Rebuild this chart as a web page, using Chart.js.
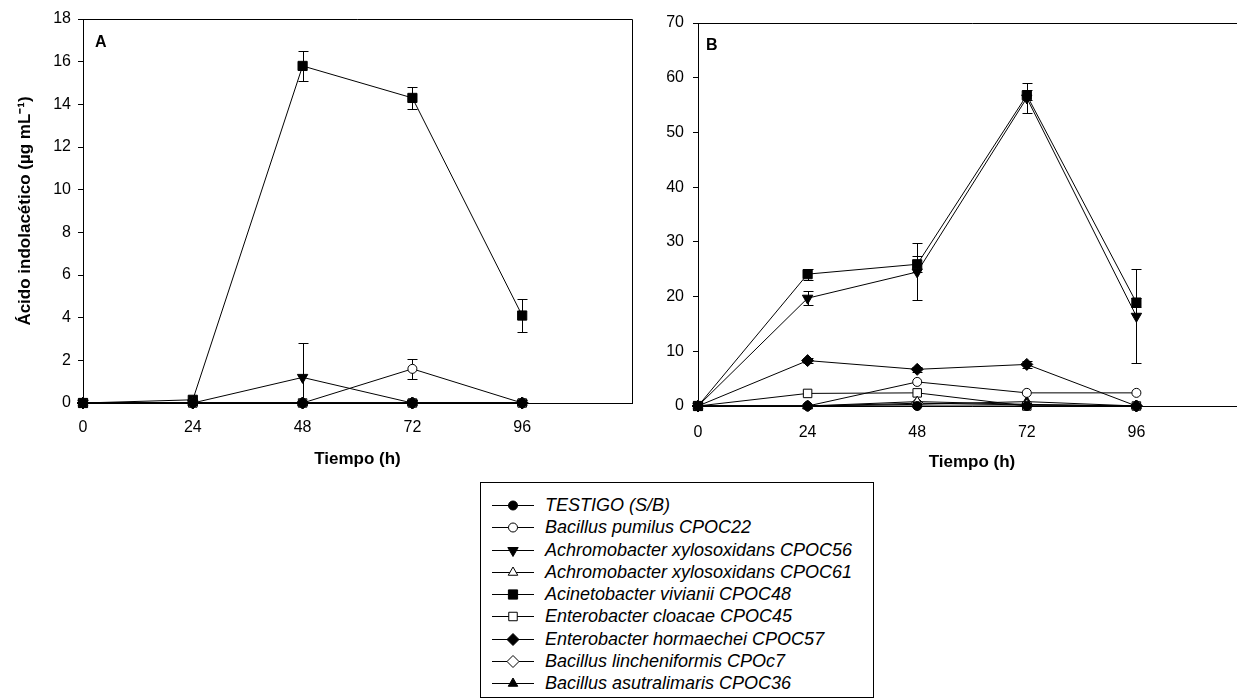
<!DOCTYPE html>
<html>
<head>
<meta charset="utf-8">
<script src="https://cdn.jsdelivr.net/npm/chart.js@4/dist/chart.umd.min.js"></script>
<style>
  body { margin: 0; width: 1237px; height: 698px; overflow: hidden; background: #fff; position: relative;
         font-family: "Liberation Sans", Arial, sans-serif; color: #000; }
  canvas.panel { position: absolute; top: 0; }
  .tag { position: absolute; font-weight: bold; font-size: 16px; line-height: 16px; }
  #legend { position: absolute; left: 480px; top: 482px; width: 394px; height: 216px;
            box-sizing: border-box; border: 1px solid #000; padding-top: 11px; }
  .row { position: relative; height: 22.3px; }
  .row canvas { position: absolute; left: 11px; top: 1px; }
  .row span { position: absolute; left: 64px; top: 0; font-style: italic; font-size: 18px; line-height: 22px; white-space: nowrap; }
</style>
</head>
<body>
<canvas id="chartA" class="panel" width="650" height="480" style="left:0"></canvas>
<canvas id="chartB" class="panel" width="660" height="480" style="left:600px"></canvas>
<div class="tag" style="left:95px;top:34px">A</div>
<div class="tag" style="left:706px;top:37px">B</div>
<div id="legend"></div>

<script>
// Data
const hours = [0, 24, 48, 72, 96];
const yTicksA = [0, 2, 4, 6, 8, 10, 12, 14, 16, 18];
const yTicksB = [0, 10, 20, 30, 40, 50, 60, 70];

const seriesNames = [
  'TESTIGO (S/B)',
  'Bacillus pumilus CPOC22',
  'Achromobacter xylosoxidans CPOC56',
  'Achromobacter xylosoxidans CPOC61',
  'Acinetobacter vivianii CPOC48',
  'Enterobacter cloacae CPOC45',
  'Enterobacter hormaechei CPOC57',
  'Bacillus lincheniformis CPOc7',
  'Bacillus asutralimaris CPOC36'
];

// Panel A
const testigoA    = [0, 0, 0, 0, 0];
const pumilusA    = [0, 0, 0, 1.6, 0];
const xylo56A     = [0, 0, 1.2, 0, 0];
const xylo61A     = [0, 0, 0, 0, 0];
const vivianiiA   = [0, 0.15, 15.8, 14.3, 4.1];
const cloacaeA    = [0, 0, 0, 0, 0];
const hormaecheiA = [0, 0, 0, 0, 0];
const lichenA     = [0, 0, 0, 0, 0];
const austrA      = [0, 0, 0, 0, 0];
const pumilusErrA  = [0, 0, 0, 0.48, 0];
const xylo56ErrA   = [0, 0, 1.6, 0, 0];
const vivianiiErrA = [0, 0, 0.7, 0.5, 0.77];

// Panel B
const testigoB    = [0, 0, 0, 0, 0];
const pumilusB    = [0, 0, 4.4, 2.4, 2.4];
const xylo56B     = [0, 19.7, 24.5, 56.3, 16.4];
const xylo61B     = [0, 0, 0.8, 0.3, 0];
const vivianiiB   = [0, 24.1, 25.9, 56.8, 18.9];
const cloacaeB    = [0, 2.3, 2.4, 0, 0];
const hormaecheiB = [0, 8.3, 6.7, 7.6, 0];
const lichenB     = [0, 0, 0.5, 0.2, 0];
const austrB      = [0, 0, 0.3, 0.8, 0];
const xylo56ErrB     = [0, 1.3, 5.2, 2.7, 8.6];
const vivianiiErrB   = [0, 1.0, 1.5, 0.9, 0.8];
const hormaecheiErrB = [0, 0.5, 0.5, 0.6, 0];

// Marker look per series (same order as seriesNames)
const markers = [
  { style: 'circle',   fill: '#000', r: 4.5 },
  { style: 'circle',   fill: '#fff', r: 4.5 },
  { style: 'triangle', fill: '#000', r: 6, rot: 180 },
  { style: 'triangle', fill: '#fff', r: 5.5 },
  { style: 'rect',     fill: '#000', r: 6.5 },
  { style: 'rect',     fill: '#fff', r: 6 },
  { style: 'rectRot',  fill: '#000', r: 6 },
  { style: 'rectRot',  fill: '#fff', r: 6 },
  { style: 'triangle', fill: '#000', r: 5.5 }
];

const FONT = '"Liberation Sans", Arial, sans-serif';

function buildDatasets(values, errors) {
  return seriesNames.map((name, i) => ({
    label: name,
    data: hours.map((h, j) => ({ x: h, y: values[i][j] })),
    errors: errors[i],
    borderColor: '#000',
    borderWidth: 1,
    tension: 0,
    fill: false,
    clip: false,
    pointStyle: markers[i].style,
    pointRotation: markers[i].rot || 0,
    pointRadius: markers[i].r,
    pointBackgroundColor: markers[i].fill,
    pointBorderColor: '#000',
    pointBorderWidth: 1
  }));
}

// vertical error bars with caps, drawn under the markers
const errorBars = {
  id: 'errorBars',
  beforeDatasetsDraw(chart) {
    const { ctx, scales: { x, y } } = chart;
    ctx.save();
    ctx.strokeStyle = '#000';
    ctx.lineWidth = 1;
    chart.data.datasets.forEach(ds => {
      if (!ds.errors) return;
      ds.data.forEach((p, j) => {
        const e = ds.errors[j];
        if (!e) return;
        const px = Math.round(x.getPixelForValue(p.x)) + 0.5;
        const top = Math.round(y.getPixelForValue(p.y + e)) + 0.5;
        const low = Math.max(0, p.y - e);
        const bot = Math.round(y.getPixelForValue(low)) + 0.5;
        ctx.beginPath();
        ctx.moveTo(px, top); ctx.lineTo(px, bot);
        ctx.moveTo(px - 5, top); ctx.lineTo(px + 5, top);
        if (low > 0) { ctx.moveTo(px - 5, bot); ctx.lineTo(px + 5, bot); }
        ctx.stroke();
      });
    });
    ctx.restore();
  }
};

// top / right frame lines
const frame = {
  id: 'frame',
  afterDraw(chart, args, opts) {
    const { ctx, chartArea: a } = chart;
    ctx.save();
    ctx.strokeStyle = '#000';
    ctx.lineWidth = 1;
    ctx.beginPath();
    const t = Math.round(a.top) + 0.5, r = Math.round(a.right) + 0.5;
    ctx.moveTo(Math.round(a.left), t); ctx.lineTo(r, t);
    if (opts.right) ctx.lineTo(r, Math.round(a.bottom) + 0.5);
    ctx.stroke();
    ctx.restore();
  }
};

function makePanel(id, datasets, yTicks, cfg) {
  const tickFont = { family: FONT, size: 16 };
  const titleFont = { family: FONT, size: 17, weight: 'bold' };
  return new Chart(document.getElementById(id), {
    type: 'line',
    data: { datasets },
    plugins: [errorBars, frame],
    options: {
      responsive: false,
      animation: false,
      events: [],
      layout: { padding: { left: 0, top: cfg.top, right: cfg.right, bottom: 0 } },
      plugins: { legend: { display: false }, tooltip: { enabled: false }, frame: { right: cfg.frameRight } },
      scales: {
        x: {
          type: 'linear', min: 0, max: 120,
          afterBuildTicks: s => { s.ticks = hours.map(v => ({ value: v })); },
          afterFit: s => { s.height = cfg.xHeight; },
          grid: { display: true, drawOnChartArea: false, drawTicks: true, tickLength: 5, color: '#000' },
          border: { display: true, color: '#000', width: 1 },
          ticks: { color: '#000', font: tickFont, padding: cfg.xPad, maxRotation: 0, autoSkip: false },
          title: { display: true, text: 'Tiempo (h)', color: '#000', font: titleFont, padding: { top: 0, bottom: cfg.titlePad } }
        },
        y: {
          min: 0, max: yTicks[yTicks.length - 1],
          afterBuildTicks: s => { s.ticks = yTicks.map(v => ({ value: v })); },
          afterFit: s => { s.width = cfg.yWidth; },
          grid: { display: true, drawOnChartArea: false, drawTicks: true, tickLength: 5, color: '#000' },
          border: { display: true, color: '#000', width: 1 },
          ticks: { color: '#000', font: tickFont, padding: cfg.yPad },
          title: { display: !!cfg.yTitle, text: cfg.yTitle || '', color: '#000', font: titleFont, padding: { top: 15, bottom: 0 } }
        }
      }
    }
  });
}

makePanel('chartA',
  buildDatasets(
    [testigoA, pumilusA, xylo56A, xylo61A, vivianiiA, cloacaeA, hormaecheiA, lichenA, austrA],
    [null, pumilusErrA, xylo56ErrA, null, vivianiiErrA, null, null, null, null]),
  yTicksA,
  { top: 19, right: 18, xHeight: 77, yWidth: 83, titlePad: 10, xPad: 10, yPad: 7, frameRight: true,
    yTitle: 'Ácido indolacético (µg mL⁻¹)' });

makePanel('chartB',
  buildDatasets(
    [testigoB, pumilusB, xylo56B, xylo61B, vivianiiB, cloacaeB, hormaecheiB, lichenB, austrB],
    [null, null, xylo56ErrB, null, vivianiiErrB, null, hormaecheiErrB, null, null]),
  yTicksB,
  { top: 23, right: 14, xHeight: 74, yWidth: 98, titlePad: 7, xPad: 12, yPad: 9, frameRight: true });

// Legend: line + marker swatch and italic name
function drawMarker(ctx, m, x, y) {
  const r = m.r;
  ctx.beginPath();
  if (m.style === 'circle') {
    ctx.arc(x, y, r, 0, Math.PI * 2);
  } else if (m.style === 'rect') {
    const s = r * Math.SQRT1_2;
    ctx.rect(x - s, y - s, 2 * s, 2 * s);
  } else if (m.style === 'rectRot') {
    ctx.moveTo(x, y - r); ctx.lineTo(x + r, y); ctx.lineTo(x, y + r); ctx.lineTo(x - r, y); ctx.closePath();
  } else {
    let a = (m.rot || 0) * Math.PI / 180;
    for (let k = 0; k < 3; k++) {
      const px = x + Math.sin(a) * r, py = y - Math.cos(a) * r;
      k ? ctx.lineTo(px, py) : ctx.moveTo(px, py);
      a += 2 * Math.PI / 3;
    }
    ctx.closePath();
  }
  ctx.fillStyle = m.fill;
  ctx.fill();
  ctx.strokeStyle = '#000';
  ctx.lineWidth = 1;
  ctx.stroke();
}

const legend = document.getElementById('legend');
seriesNames.forEach((name, i) => {
  const row = document.createElement('div');
  row.className = 'row';
  const c = document.createElement('canvas');
  c.width = 42; c.height = 20;
  const ctx = c.getContext('2d');
  ctx.strokeStyle = '#000';
  ctx.lineWidth = 1;
  ctx.beginPath(); ctx.moveTo(0, 10.5); ctx.lineTo(42, 10.5); ctx.stroke();
  drawMarker(ctx, markers[i], 21, 10.5);
  const span = document.createElement('span');
  span.textContent = name;
  row.appendChild(c);
  row.appendChild(span);
  legend.appendChild(row);
});
</script>
</body>
</html>
